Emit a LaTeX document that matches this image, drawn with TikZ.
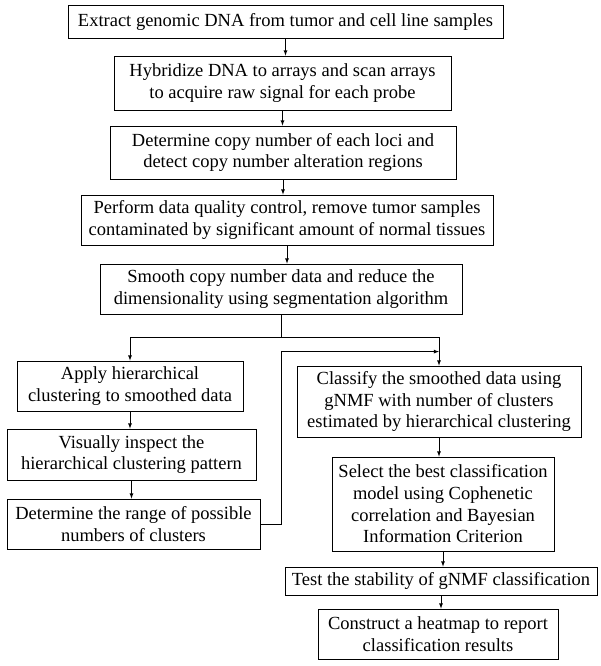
\documentclass[tikz,border=0pt]{standalone}
\usepackage{fontspec}
\setmainfont{Liberation Serif}
\usetikzlibrary{arrows}
\tikzset{
  stage/.style={draw, line width=0.8pt, align=center, inner sep=2pt,
    font=\fontsize{18.5}{21.7}\selectfont},
  flow/.style={-latex, line width=0.8pt}
}
\begin{document}
\begin{tikzpicture}[x=1pt,y=-1pt]
\useasboundingbox (0,0) rectangle (600,666);
%main column
\node[stage, minimum width=435, minimum height=33] (extract) at (285.5,21.5)
  {Extract genomic DNA from tumor and cell line samples};
\node[stage, minimum width=337, minimum height=54] (hybrid) at (282.5,83)
  {Hybridize DNA to arrays and scan arrays\\to acquire raw signal for each probe};
\node[stage, minimum width=346, minimum height=53] (copynum) at (283,152.5)
  {Determine copy number of each loci and\\detect copy number alteration regions};
\node[stage, minimum width=412, minimum height=50] (quality) at (287,220)
  {Perform data quality control, remove tumor samples\\contaminated by significant amount of normal tissues};
\node[stage, minimum width=362, minimum height=50] (smooth) at (281,289)
  {Smooth copy number data and reduce the\\dimensionality using segmentation algorithm};
%left branch
\node[stage, minimum width=226, minimum height=50] (apply) at (130,386)
  {Apply hierarchical\\clustering to smoothed data};
\node[stage, minimum width=249, minimum height=51] (inspect) at (131.5,454.5)
  {Visually inspect the\\hierarchical clustering pattern};
\node[stage, minimum width=253, minimum height=50] (range) at (133.5,524)
  {Determine the range of possible\\numbers of clusters};
%right branch
\node[stage, minimum width=284, minimum height=71] (classify) at (439,401.5)
  {Classify the smoothed data using\\gNMF with number of clusters\\estimated by hierarchical clustering};
\node[stage, minimum width=222, minimum height=94] (select) at (443,504)
  {Select the best classification\\model using Cophenetic\\correlation and Bayesian\\Information Criterion};
\node[stage, minimum width=312, minimum height=28] (stab) at (441,581)
  {Test the stability of gNMF classification};
\node[stage, minimum width=240, minimum height=50] (heatmap) at (438,634)
  {Construct a heatmap to report\\classification results};

%arrows down the main column
\draw[flow] (extract.south) -- (extract.south |- hybrid.north);
\draw[flow] (hybrid.south) -- (hybrid.south |- copynum.north);
\draw[flow] (copynum.south) -- (copynum.south |- quality.north);
\draw[flow] (quality.south) -- (quality.south |- smooth.north);
%fork
\coordinate (fork) at (281,337);
\draw[line width=0.8pt] (smooth.south) -- (fork);
\draw[flow] (fork) -| (apply.north);
\draw[flow] (fork) -| (classify.north);
%left steps
\draw[flow] (apply.south) -- (apply.south |- inspect.north);
\draw[flow] (inspect.south) -- (inspect.south |- range.north);
%back to the gNMF step
\draw[flow] (range.east) -- (range.east -| fork) |- ([yshift=14pt]classify.north);
%right steps
\draw[flow] (classify.south) -- (classify.south |- select.north);
\draw[flow] (select.south) -- (select.south |- stab.north);
\draw[flow] (stab.south) -- (stab.south |- heatmap.north);
\end{tikzpicture}
\end{document}
